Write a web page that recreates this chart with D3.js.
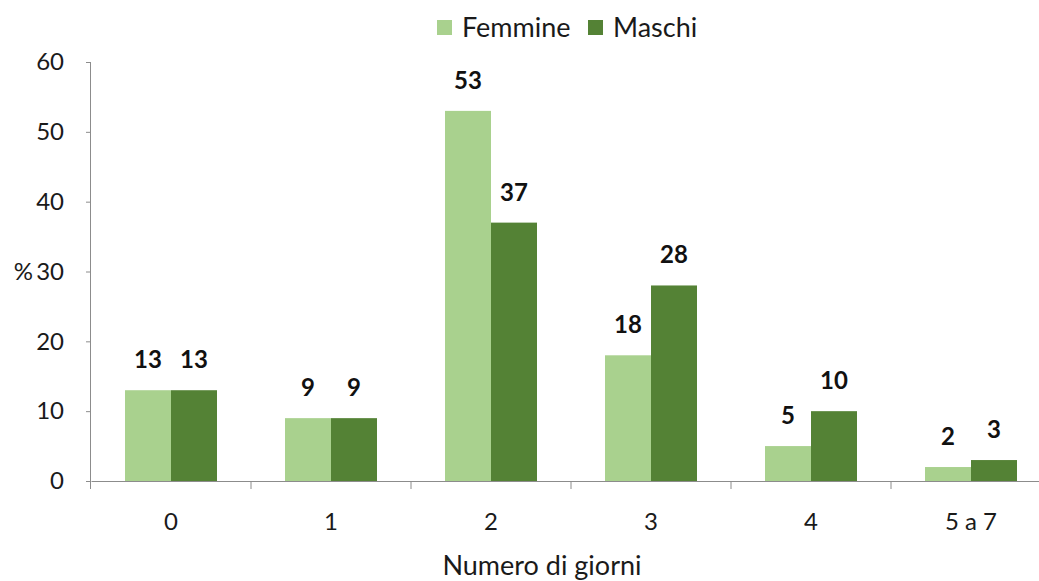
<!DOCTYPE html>
<html>
<head>
<meta charset="utf-8">
<script src="https://cdn.jsdelivr.net/npm/d3@7"></script>
<style>
  body { margin: 0; background: #fff; }
  svg { display: block; font-family: Lato, "Open Sans", sans-serif; }
</style>
</head>
<body>
<div class="chart"></div>
<script>
const categories = ["0", "1", "2", "3", "4", "5 a 7"];
const femmine = [13, 9, 53, 18, 5, 2];
const maschi = [13, 9, 37, 28, 10, 3];
const seriesNames = ["Femmine", "Maschi"];
const yTicks = [0, 10, 20, 30, 40, 50, 60];

const colors = ["#a9d18e", "#548235"];

// set the dimensions and margins of the graph
const W = 1039, H = 581;
const margin = { top: 62, right: -12, bottom: 100, left: 91 },
    width = W - margin.left - margin.right,
    height = H - margin.top - margin.bottom;

const svg = d3.select(".chart")
    .append("svg")
    .attr("width", W)
    .attr("height", H);

const g = svg.append("g")
    .attr("transform", `translate(${margin.left},${margin.top})`);

const rows = categories.map((c, i) => ({ cat: c, values: [femmine[i], maschi[i]] }));

// X scale
const x = d3.scaleBand()
    .domain(categories)
    .range([0, width])
    .paddingInner(0.425)
    .paddingOuter(0.2125);
const xSub = d3.scaleBand()
    .domain(seriesNames)
    .range([0, x.bandwidth()]);

// Y scale
const y = d3.scaleLinear()
    .domain([0, 60])
    .range([height, 0]);

// Y axis
const yAxis = g.append("g")
    .call(d3.axisLeft(y).tickValues(yTicks).tickSize(5).tickPadding(22));
yAxis.select(".domain").attr("stroke", "#8c8c8c").attr("d", `M-0.5,${height + 8}V0.5H-5`);
yAxis.selectAll(".tick line").attr("stroke", "#8c8c8c");
yAxis.selectAll("text")
    .attr("font-size", 24)
    .attr("fill", "#1a1a1a")
    .attr("font-family", "Lato, sans-serif");

// "%" axis title
g.append("text")
    .text("%")
    .attr("x", -58)
    .attr("y", y(30))
    .attr("dy", "0.35em")
    .attr("text-anchor", "end")
    .attr("font-size", 24)
    .attr("fill", "#1a1a1a");

// bars
const groups = g.selectAll(".grp")
    .data(rows)
    .join("g")
    .attr("class", "grp")
    .attr("transform", d => `translate(${x(d.cat)},0)`);

groups.selectAll("rect")
    .data(d => d.values.map((v, k) => ({ k, v })))
    .join("rect")
    .attr("x", d => xSub(seriesNames[d.k]))
    .attr("width", xSub.bandwidth())
    .attr("y", d => y(d.v))
    .attr("height", d => height - y(d.v))
    .attr("fill", d => colors[d.k]);

// value labels
groups.selectAll("text.val")
    .data(d => d.values.map((v, k) => ({ k, v })))
    .join("text")
    .attr("class", "val")
    .text(d => d.v)
    .attr("x", d => xSub(seriesNames[d.k]) + xSub.bandwidth() / 2)
    .attr("y", d => y(d.v) - 22)
    .attr("text-anchor", "middle")
    .attr("font-size", 24)
    .attr("font-weight", "bold")
    .attr("fill", "#111");

// X axis: baseline with ticks at category boundaries
const xAxis = g.append("g")
    .attr("transform", `translate(0,${height})`)
    .call(d3.axisBottom(x).tickSize(0).tickPadding(32));
xAxis.select(".domain").attr("stroke", "#8c8c8c");
xAxis.selectAll("text")
    .attr("font-size", 24)
    .attr("fill", "#1a1a1a")
    .attr("font-family", "Lato, sans-serif");

const step = x.step();
xAxis.selectAll(".bound")
    .data(categories.slice(1))
    .join("line")
    .attr("class", "bound")
    .attr("x1", d => x(d) - (step - x.bandwidth()) / 2)
    .attr("x2", d => x(d) - (step - x.bandwidth()) / 2)
    .attr("y1", 0)
    .attr("y2", 8)
    .attr("stroke", "#8c8c8c");

// X title
svg.append("text")
    .text("Numero di giorni")
    .attr("x", 542)
    .attr("y", 575)
    .attr("text-anchor", "middle")
    .attr("font-size", 27)
    .attr("fill", "#1a1a1a");

// legend
const legendX = [437, 588];
const legend = svg.selectAll(".leg")
    .data(seriesNames)
    .join("g")
    .attr("class", "leg")
    .attr("transform", (d, i) => `translate(${legendX[i]},20)`);
legend.append("rect")
    .attr("width", 15)
    .attr("height", 15)
    .attr("fill", (d, i) => colors[i]);
legend.append("text")
    .text(d => d)
    .attr("x", 25)
    .attr("y", 17)
    .attr("font-size", 27)
    .attr("fill", "#1a1a1a");
</script>
</body>
</html>
